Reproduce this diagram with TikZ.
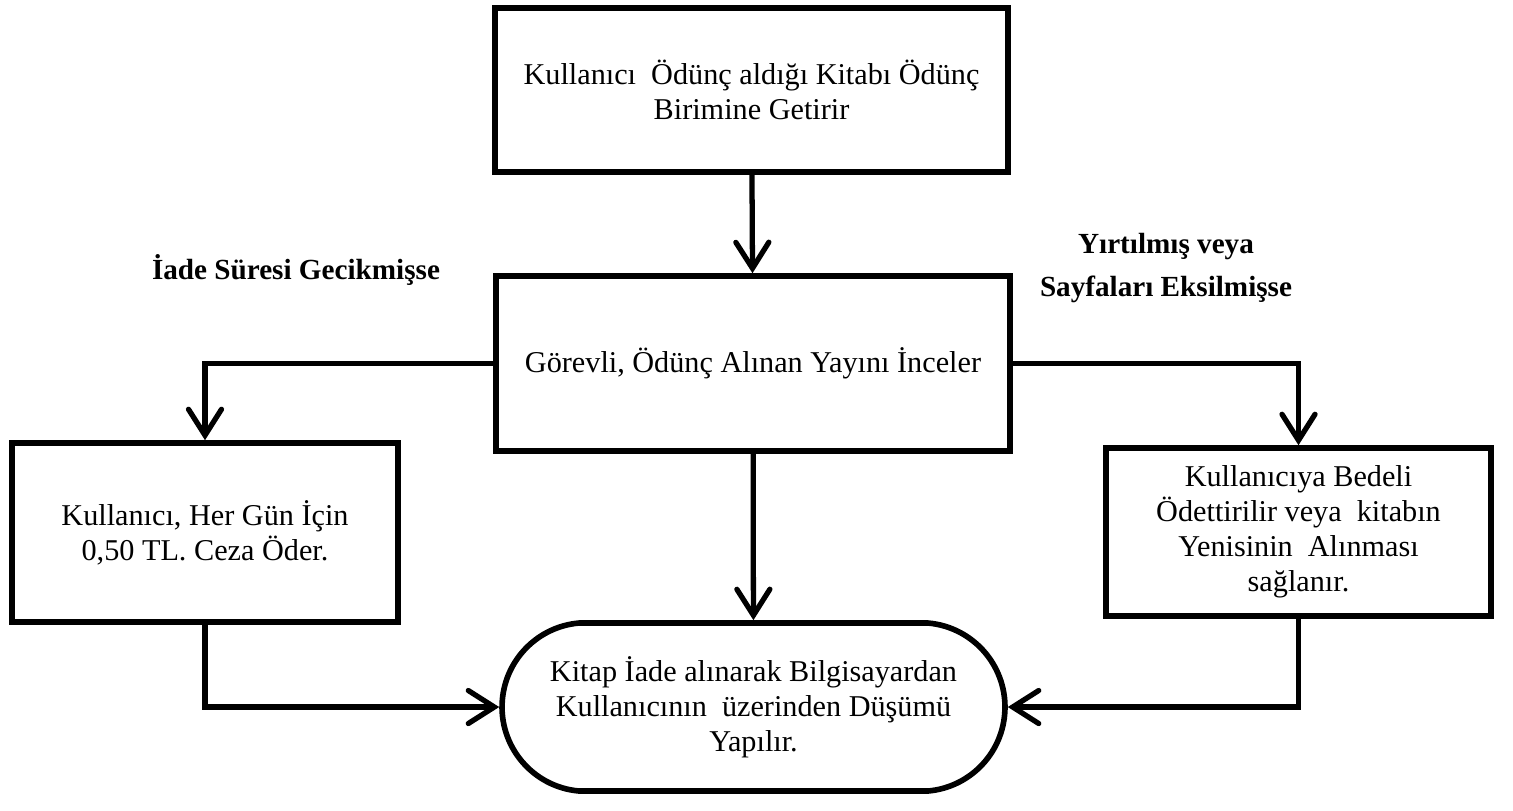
\documentclass[tikz,border=0pt]{standalone}
\usepackage{fontspec}
\setmainfont{Liberation Serif}
\usetikzlibrary{arrows.meta,shapes.misc}

\begin{document}
\begin{tikzpicture}[
	box/.style={draw, line width=1.6pt, rectangle, align=center, inner sep=2pt,
		font=\fontsize{8.6}{10}\selectfont},
	endbox/.style={box, rounded rectangle, rounded rectangle arc length=170},
	cond/.style={align=center, font=\fontsize{8.3}{12.5}\selectfont\bfseries},
	flow/.style={line width=1.5pt, -{Straight Barb[length=2.6mm,width=3.3mm,line cap=round]}}
	]
			%%%%% START %%%%%
			
			\useasboundingbox (0, 0) rectangle (15.13, -8.10);
			
			\node[box, minimum width=5.13cm, minimum height=1.64cm] (getir) at (7.515, -0.90)
				{Kullanıcı \ Ödünç aldığı Kitabı Ödünç\\Birimine Getirir};
			\node[box, minimum width=5.14cm, minimum height=1.75cm] (incele) at (7.53, -3.635)
				{Görevli, Ödünç Alınan Yayını İnceler};
			
			\node[box, minimum width=3.86cm, minimum height=1.79cm] (ceza) at (2.05, -5.325)
				{Kullanıcı, Her Gün İçin\\0,50 TL. Ceza Öder.};
			\node[box, minimum width=3.85cm, minimum height=1.68cm] (bedel) at (12.985, -5.32)
				{Kullanıcıya Bedeli\\Ödettirilir veya \ kitabın\\Yenisinin \ Alınması\\sağlanır.};
			
			\node[endbox, minimum width=5.17cm, minimum height=1.68cm] (dusum) at (7.535, -7.07)
				{Kitap İade alınarak Bilgisayardan\\Kullanıcının \ üzerinden Düşümü\\Yapılır.};
			
			\node[cond] (gecik) at (2.96, -2.70) {İade Süresi Gecikmişse};
			\node[cond] (yirtik) at (11.66, -2.68) {Yırtılmış veya\\Sayfaları Eksilmişse};
			
			\draw[flow] (getir) -- (incele);
			\draw[flow] (incele) -- (dusum);
			\draw[flow] (incele.west) -| (ceza.north);
			\draw[flow] (incele.east) -| (bedel.north);
			
			\draw[flow] (ceza.south) |- (dusum.west);
			\draw[flow] (bedel.south) |- (dusum.east);
			
			%%%%% END %%%%%
\end{tikzpicture}
\end{document}
